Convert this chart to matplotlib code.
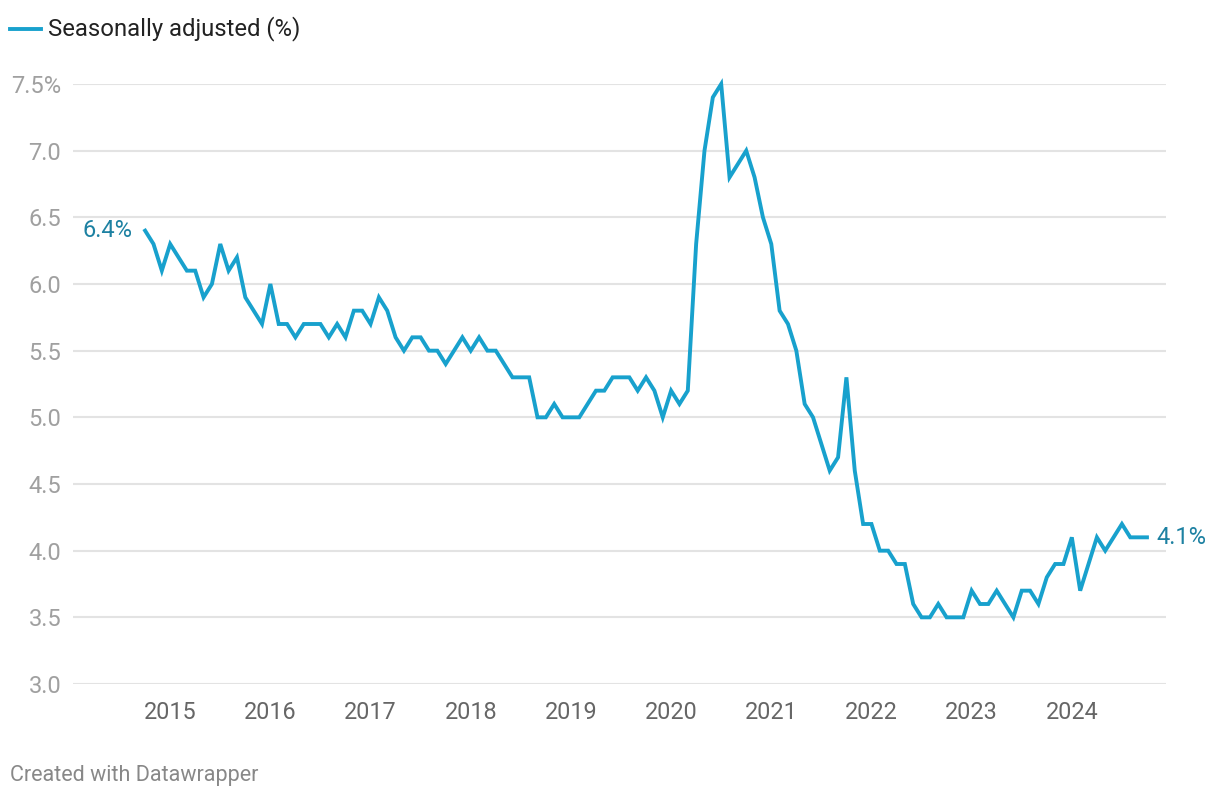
import numpy as np
import matplotlib.pyplot as plt

plt.rcParams['font.family'] = ['Roboto', 'DejaVu Sans']

# monthly values, Oct 2014 .. Oct 2024
start_year = 2014
start_month = 10
rate = [6.4, 6.3, 6.1, 6.3, 6.2, 6.1, 6.1, 5.9, 6.0, 6.3, 6.1, 6.2, 5.9, 5.8, 5.7,
        6.0, 5.7, 5.7, 5.6, 5.7, 5.7, 5.7, 5.6, 5.7, 5.6, 5.8, 5.8, 5.7, 5.9,
        5.8, 5.6, 5.5, 5.6, 5.6, 5.5, 5.5, 5.4, 5.5, 5.6, 5.5, 5.6, 5.5, 5.5,
        5.4, 5.3, 5.3, 5.3, 5.0, 5.0, 5.1, 5.0, 5.0, 5.0, 5.1, 5.2, 5.2,
        5.3, 5.3, 5.3, 5.2, 5.3, 5.2, 5.0, 5.2, 5.1, 5.2,
        6.3, 7.0, 7.4, 7.5, 6.8, 6.9, 7.0, 6.8, 6.5, 6.3,
        5.8, 5.7, 5.5, 5.1, 5.0, 4.8, 4.6, 4.7, 5.3, 4.6,
        4.2, 4.2, 4.0, 4.0, 3.9, 3.9, 3.6, 3.5, 3.5, 3.6,
        3.5, 3.5, 3.5, 3.7, 3.6, 3.6, 3.7, 3.6, 3.5, 3.7,
        3.7, 3.6, 3.8, 3.9, 3.9, 4.1, 3.7, 3.9, 4.1, 4.0,
        4.1, 4.2, 4.1, 4.1, 4.1]
years = [2015, 2016, 2017, 2018, 2019, 2020, 2021, 2022, 2023, 2024]
yticks = [3.0, 3.5, 4.0, 4.5, 5.0, 5.5, 6.0, 6.5, 7.0, 7.5]
ytick_labels = ["3.0", "3.5", "4.0", "4.5", "5.0", "5.5", "6.0", "6.5", "7.0", "7.5%"]

blue = "#18a1cd"
label_blue = "#1d81a2"

t = start_year + (start_month - 1) / 12 + np.arange(len(rate)) / 12

fig = plt.figure(figsize=(12.2, 8), dpi=100)
ax = fig.add_axes([73 / 1220, 1 - 684 / 800, (1166 - 73) / 1220, 600 / 800])

ax.plot(t, rate, color=blue, lw=2.8, solid_joinstyle='miter', clip_on=False, zorder=3)

ax.set_xlim(2014.03, 2024.94)
ax.set_ylim(3.0, 7.5)

ax.set_yticks(yticks)
ax.set_yticklabels(ytick_labels)
ax.set_xticks(years)
ax.set_xticklabels([str(y) for y in years])
ax.tick_params(axis='y', length=0, pad=8.5, labelsize=17, labelcolor="#a0a0a0")
ax.tick_params(axis='x', length=0, pad=12, labelsize=16.8, labelcolor="#666666")
ax.grid(axis='y', color="#e3e3e3", lw=1.5)
ax.set_axisbelow(True)
for s in ax.spines.values():
    s.set_visible(False)

# start / end labels
ax.annotate("6.4%", (t[0], rate[0]), xytext=(-9, 0), textcoords='offset points',
            ha='right', va='center', color=label_blue, fontsize=17)
ax.annotate("4.1%", (t[-1], rate[-1]), xytext=(7, 0), textcoords='offset points',
            ha='left', va='center', color=label_blue, fontsize=17)

# legend
fig.lines.append(plt.Line2D([10 / 1220, 41 / 1220], [1 - 29 / 800, 1 - 29 / 800],
                            transform=fig.transFigure, color=blue, lw=2.8))
fig.text(48 / 1220, 1 - 29 / 800, "Seasonally adjusted (%)", ha='left', va='center',
         fontsize=17.2, color="#222222")

fig.text(10 / 1220, 1 - 776 / 800, "Created with Datawrapper", ha='left', va='center',
         fontsize=15.5, color="#888888")

fig.savefig("out.png", dpi=100, facecolor="white")
